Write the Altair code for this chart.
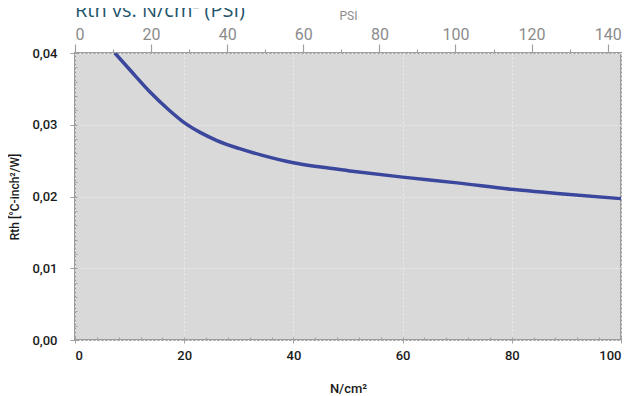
import altair as alt
import pandas as pd

# ---- data ----
ncm = [7.3, 10, 13.7, 17, 20, 23, 26, 30, 34, 40, 45, 50, 60, 70, 80, 90, 100]
rth = [0.0400, 0.0377, 0.0346, 0.0322, 0.0303, 0.0289, 0.0278, 0.0267, 0.0258,
       0.0247, 0.0241, 0.0236, 0.0227, 0.0219, 0.0210, 0.0203, 0.0197]

x_ticks = list(range(0, 101, 4))          # minor every 4, labels every 20
y_ticks = [round(i * 0.002, 3) for i in range(0, 21)]  # minor every 0.002
psi_ticks = list(range(0, 141, 10))       # minor every 10, labels every 20

df = pd.DataFrame({"ncm": ncm, "rth": rth})
psi_df = pd.DataFrame({"psi": psi_ticks})

LABEL_FONT = "Roboto"
GRID = "#ebebeb"

x_major = "datum.value % 20 == 0"
y_major = "round(datum.value * 1000) % 10 == 0"

line = alt.Chart(df).mark_line(
    color="#3a479c", strokeWidth=3.5, interpolate="monotone", clip=True
).encode(
    x=alt.X(
        "ncm:Q",
        scale=alt.Scale(domain=[0, 100], nice=False, zero=True),
        axis=alt.Axis(
            title="N/cm²",
            orient="bottom",
            values=x_ticks,
            labelExpr=f"{x_major} ? datum.label : ''",
            domain=False,
            offset=-3,
            tickSize=alt.ConditionalAxisNumber(
                condition={"test": x_major, "value": 6}, value=3
            ),
            tickColor="#a0a0a0",
            tickWidth=1,
            labelPadding=6,
            labelFont=LABEL_FONT,
            labelFontSize=13,
            labelFontWeight=500,
            labelColor="#1a1a1a",
            titleFont=LABEL_FONT,
            titleFontSize=13,
            titleFontWeight=500,
            titleColor="#1a1a1a",
            titlePadding=20,
            grid=True,
            gridColor=GRID,
            gridDash=[2, 2],
            gridOpacity=alt.ConditionalAxisNumber(
                condition={"test": x_major, "value": 1}, value=0
            ),
        ),
    ),
    y=alt.Y(
        "rth:Q",
        scale=alt.Scale(domain=[0, 0.04], nice=False),
        axis=alt.Axis(
            title="Rth [°C-inch²/W]",
            values=y_ticks,
            labelExpr=f"{y_major} ? replace(format(datum.value, '.2f'), '.', ',') : ''",
            domain=False,
            offset=-2,
            tickSize=alt.ConditionalAxisNumber(
                condition={"test": y_major, "value": 7}, value=2
            ),
            tickColor="#a0a0a0",
            tickWidth=1,
            labelPadding=13,
            labelFont=LABEL_FONT,
            labelFontSize=13,
            labelFontWeight=500,
            labelColor="#1a1a1a",
            titleFont=LABEL_FONT,
            titleFontSize=12,
            titleFontWeight=500,
            titleColor="#1a1a1a",
            titlePadding=10,
            grid=True,
            gridColor=GRID,
            gridDash=[2, 2],
            gridOpacity=alt.ConditionalAxisNumber(
                condition={"test": y_major, "value": 1}, value=0
            ),
        ),
    ),
)

psi_major = "datum.value % 20 == 0"
psi = alt.Chart(psi_df).mark_point(opacity=0).encode(
    x=alt.X(
        "psi:Q",
        scale=alt.Scale(domain=[0, 143.5], nice=False, zero=True),
        axis=alt.Axis(
            title="PSI",
            orient="top",
            values=psi_ticks,
            labelExpr=f"{psi_major} ? datum.label : ''",
            domain=False,
            tickSize=alt.ConditionalAxisNumber(
                condition={"test": psi_major, "value": 9}, value=4
            ),
            tickColor="#a0a0a0",
            tickWidth=1.2,
            labelPadding=2,
            labelFont=LABEL_FONT,
            labelFontSize=16,
            labelColor="#8c8c8c",
            titleFont=LABEL_FONT,
            titleFontSize=12,
            titleFontWeight="normal",
            titleColor="#8c8c8c",
            titlePadding=4,
            grid=False,
        ),
    )
)

chart = alt.layer(line, psi).resolve_scale(x="independent").properties(
    width=546,
    height=287,
    background="white",
    autosize=alt.AutoSizeParams(type="none"),
    padding={"left": 67, "top": 45, "right": 3, "bottom": 56},
    title=alt.TitleParams(
        text="Rth vs. N/cm² (PSI)",
        anchor="start",
        frame="group",
        font="Open Sans",
        fontSize=20,
        fontWeight="normal",
        color="#1f566b",
        dy=16,
    ),
).configure_view(
    fill="#d9d9d9", stroke="#9c9c9c", strokeWidth=2
)

chart.save("out.html", embed_options={"renderer": "svg", "actions": False})
